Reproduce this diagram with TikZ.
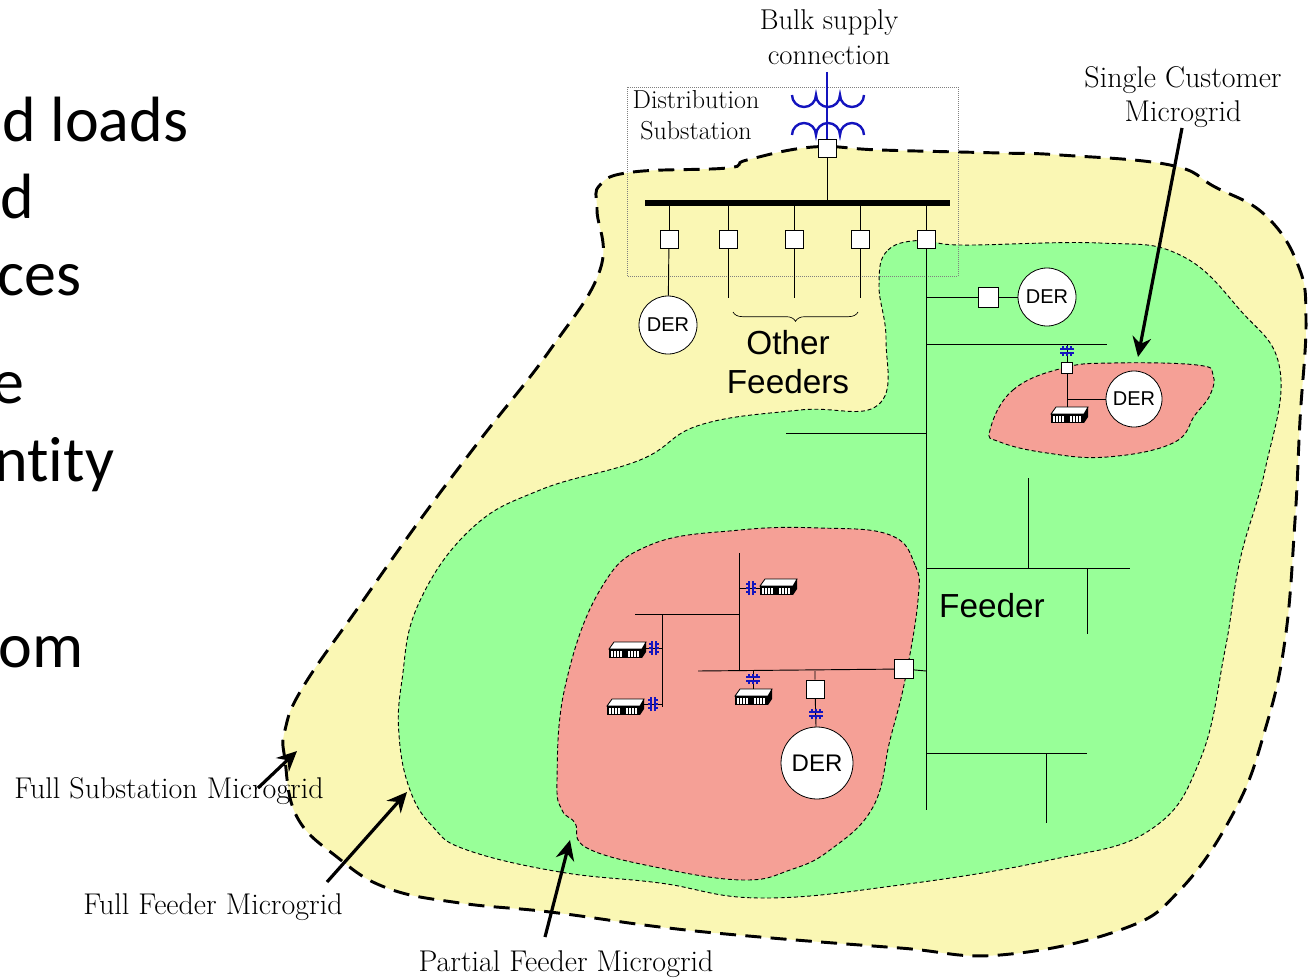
\documentclass[tikz,border=0pt]{standalone}
\usepackage{fontspec}
\usetikzlibrary{arrows.meta,decorations.pathreplacing}
\newfontfamily\arialfont{Liberation Sans}
\newfontfamily\slidefont[Ligatures=NoCommon]{Carlito}
\definecolor{substyellow}{RGB}{250,247,180}
\definecolor{feedgreen}{RGB}{152,255,152}
\definecolor{partpink}{RGB}{245,160,150}
\definecolor{coilblue}{RGB}{20,20,190}
\tikzset{
  breaker/.style={draw,fill=white,minimum size=13.5pt,inner sep=0,line width=0.6pt},
  dersmall/.style={circle,draw,fill=white,minimum size=43.5pt,inner sep=0,line width=0.6pt,font=\arialfont\fontsize{15}{18}\selectfont},
  derbig/.style={circle,draw,fill=white,minimum size=54pt,inner sep=0,line width=0.6pt,font=\arialfont\fontsize{18}{22}\selectfont},
  sanslabel/.style={inner sep=0,align=center,font=\arialfont\fontsize{25}{29.5}\selectfont},
  seriflabel/.style={inner sep=0,align=center,font=\fontsize{22.5}{26}\selectfont},
  slideline/.style={anchor=base west,inner sep=0,font=\slidefont\fontsize{48}{58}\selectfont},
  pointer/.style={-{Stealth[length=15pt,width=14pt,inset=5pt]},line width=2.4pt,black},
  building/.pic={
    \draw[fill=white,line width=0.6pt] (-18,1) -- (-13,8) -- (19,8) -- (15,1) -- cycle;
    \fill[black] (-18,1) rectangle (15,-8);
    \fill[black] (15,1) -- (19,8) -- (19,-2) -- (15,-8) -- cycle;
    \foreach \w in {-16,-13,-10,-7,1,4,7,10}
      \fill[white] (\w,-1) rectangle (\w+1.6,-6.5);
  },
  xfmr/.pic={
    \draw[coilblue,line width=0.8pt] (-2,-7) -- (-2,7) (2,-7) -- (2,7);
    \foreach \t in {-4,0,4}
      \draw[coilblue,line width=0.8pt] (-5,\t) -- (-2,\t) (2,\t) -- (5,\t);
  },
}

\begin{document}
\begin{tikzpicture}[x=0.75pt,y=0.75pt,yscale=-1,xscale=1,line width=0.7pt]
\useasboundingbox (0,0) rectangle (1308,977);

%Slide text
\node[slideline] (slidea) at (2,142) {d loads};
\node[slideline] (slideb) at (0,218) {d};
\node[slideline] (slidec) at (-3,295) {ces};
\node[slideline] (slided) at (-8,403) {e};
\node[slideline] (slidee) at (-6,481) {ntity};
\node[slideline] (slidef) at (-2,667) {om};

%Shape: Full substation area
\draw[fill=substyellow,line width=2.2pt,dash pattern={on 12pt off 7pt}] plot[smooth cycle,tension=0.7] coordinates {
  (600,185) (633,172) (727,168) (747,160) (813,147) (880,150) (1000,153) (1060,155) (1170,165) (1215,187)
  (1265,215) (1298,265) (1306,320) (1300,420) (1295,520) (1285,640) (1265,730) (1235,810) (1180,890) (1120,930)
  (1000,955) (900,948) (760,937) (660,927) (550,912) (460,903) (387,888) (337,857) (297,817) (285,760)
  (285,730) (303,687) (360,605) (420,520) (480,440) (550,350) (600,270) (597,210)};
%Shape: Full feeder area
\draw[fill=feedgreen,line width=0.7pt,dash pattern={on 3pt off 2pt}] plot[smooth cycle,tension=0.7] coordinates {
  (879,285) (888,250) (925,240) (960,245) (1100,243) (1180,255) (1240,310) (1280,370) (1265,470) (1240,560)
  (1225,650) (1200,760) (1150,830) (1050,860) (900,885) (760,898) (660,883) (560,872) (467,850) (433,827)
  (410,790) (399,735) (402,680) (418,605) (470,530) (540,490) (640,460) (700,425) (800,410) (878,405) (886,340)};
%Shape: Partial feeder area
\draw[fill=partpink,line width=0.7pt,dash pattern={on 3pt off 2pt}] plot[smooth cycle,tension=0.7] coordinates {
  (918,600) (915,565) (890,535) (820,528) (740,530) (650,545) (600,590) (565,687) (557,780) (562,810)
  (575,823) (587,848) (660,868) (743,880) (790,870) (830,850) (873,807) (890,740) (905,680)};
%Shape: Single customer area
\draw[fill=partpink,line width=0.7pt,dash pattern={on 3pt off 2pt}] plot[smooth cycle,tension=0.7] coordinates {
  (990,430) (1013,390) (1063,368) (1113,363) (1197,365) (1213,375) (1210,395) (1195,415) (1173,443) (1107,457)
  (1047,453) (1000,442)};
%Substation box
\draw[gray,line width=0.5pt,densely dotted] (627,87) rectangle (958,276);

%Transformer
\coordinate (supply) at (827,72);
\node[breaker] (cbmain) at (827,148) {};
\draw[coilblue,line width=1.8pt] (792,95) arc (180:0:12) arc (180:0:12) arc (180:0:12);
\draw[coilblue,line width=1.8pt] (792,135) arc (180:360:12) arc (180:360:12) arc (180:360:12);
\draw[coilblue,line width=1.1pt] (supply) -- (cbmain);
%Bus bar
\coordinate (busleft) at (645,203);
\coordinate (busright) at (950,203);
\coordinate (busmain) at (827,203);
\draw[line width=4.8pt] (busleft) -- (busright);
\draw (cbmain) -- (busmain);
\foreach \x/\n in {669/a,728/b,794/c,860/d,926/e} {
  \coordinate (bus\n) at (\x,203);
  \node[breaker] (cb\n) at (\x,239) {};
  \draw (bus\n) -- (cb\n);
}
\coordinate (fdrend) at (0,298);
\foreach \n in {b,c,d}
  \draw (cb\n) -- (cb\n |- fdrend);
\node[dersmall] (dera) at (668,325) {DER};
\draw (cba) -- (dera);
\draw[decorate,decoration={brace,mirror,amplitude=7},line width=0.5pt] (733,312) -- (858,312);
\node[sanslabel] (other) at (788,362) {Other\\Feeders};

%Main feeder
\coordinate (feedend) at (926,810);
\draw (cbe) -- (feedend);
\node[breaker,minimum size=15pt] (cbder) at (988,297) {};
\node[dersmall] (derb) at (1047,297) {DER};
\coordinate (tapa) at (926,297);
\draw (tapa) -- (cbder) -- (derb);
\coordinate (tapb) at (926,344);
\coordinate (latb) at (1107,344);
\draw (tapb) -- (latb);
\coordinate (tapc) at (926,433);
\coordinate (latc) at (786,433);
\draw (tapc) -- (latc);
\coordinate (tapd) at (926,568);
\coordinate (latd) at (1130,568);
\coordinate (tope) at (1028,478);
\coordinate (jointe) at (1028,568);
\coordinate (topf) at (1087,634);
\coordinate (jointf) at (1087,568);
\draw (tapd) -- (latd);
\draw (tope) -- (jointe);
\draw (jointf) -- (topf);
\coordinate (tapg) at (926,753);
\coordinate (latg) at (1087,753);
\coordinate (jointh) at (1046,753);
\coordinate (endh) at (1046,823);
\draw (tapg) -- (latg);
\draw (jointh) -- (endh);
\node[sanslabel] (feeder) at (992,606) {Feeder};

%Single customer microgrid
\node[breaker,minimum size=8.25pt] (cbsingle) at (1067,368) {};
\node[dersmall,minimum size=42pt] (derc) at (1134,399) {DER};
\coordinate (tapsingle) at (1067,344);
\coordinate (loadsingle) at (1067,408);
\coordinate (joinsingle) at (1067,399);
\draw (tapsingle) -- (cbsingle) -- (loadsingle);
\draw (joinsingle) -- (derc);
\pic at (1069,415) {building};
\pic[rotate=90] at (1067,351) {xfmr};

%Partial feeder microgrid
\node[breaker,minimum size=14.25pt] (cbpart) at (904,669) {};
\coordinate (tappart) at (926,671);
\coordinate (laterala) at (698,671);
\coordinate (jointa) at (739,671);
\coordinate (topb) at (739,553);
\coordinate (jointb) at (739,614);
\coordinate (lateralb) at (635,614);
\coordinate (jointc) at (662,614);
\coordinate (endc) at (662,707);
\draw (tappart) -- (cbpart) -- (laterala);
\draw (jointa) -- (topb);
\draw (jointb) -- (lateralb);
\draw (jointc) -- (endc);
\coordinate (jointd) at (739,588);
\coordinate (loadd) at (760,588);
\draw (jointd) -- (loadd);
\coordinate (jointl) at (662,648);
\coordinate (loadl) at (645,648);
\draw (jointl) -- (loadl);
\coordinate (jointm) at (662,704);
\coordinate (loadm) at (643,704);
\draw (jointm) -- (loadm);
\coordinate (jointn) at (753,671);
\coordinate (loadn) at (753,690);
\draw (jointn) -- (loadn);
\node[breaker] (cbdera) at (815,689) {};
\node[derbig] (derd) at (817,763) {DER};
\coordinate (jointp) at (815,671);
\draw (jointp) -- (cbdera) -- (derd);
\pic at (778,587) {building};
\pic at (627,650) {building};
\pic at (625,707) {building};
\pic at (753,697) {building};
\pic at (751,588) {xfmr};
\pic at (654,648) {xfmr};
\pic at (653,704) {xfmr};
\pic[rotate=90] at (753,679) {xfmr};
\pic[rotate=90] at (816,714) {xfmr};

%Labels
\node[seriflabel,font=\fontsize{21.5}{26}\selectfont] (bulk) at (829,37) {Bulk supply\\connection};
\node[seriflabel,font=\fontsize{19.5}{23}\selectfont] (subst) at (696,115) {Distribution\\Substation};
\node[seriflabel] (single) at (1183,97) {Single Customer\\Microgrid};
\node[seriflabel] (fullsub) at (169,791) {Full Substation Microgrid};
\node[seriflabel] (fullfeed) at (213,907) {Full Feeder Microgrid};
\node[seriflabel] (partial) at (566,964) {Partial Feeder Microgrid};

%Arrows
\coordinate (tipsingle) at (1138,357);
\coordinate (tailsingle) at (1182,128);
\coordinate (tipsub) at (297,751);
\coordinate (tailsub) at (258,788);
\coordinate (tipfeed) at (407,792);
\coordinate (tailfeed) at (327,882);
\coordinate (tippart) at (570,840);
\coordinate (tailpart) at (545,937);
\draw[pointer] (tailsingle) -- (tipsingle);
\draw[pointer] (tailsub) -- (tipsub);
\draw[pointer] (tailfeed) -- (tipfeed);
\draw[pointer] (tailpart) -- (tippart);
\end{tikzpicture}
\end{document}
